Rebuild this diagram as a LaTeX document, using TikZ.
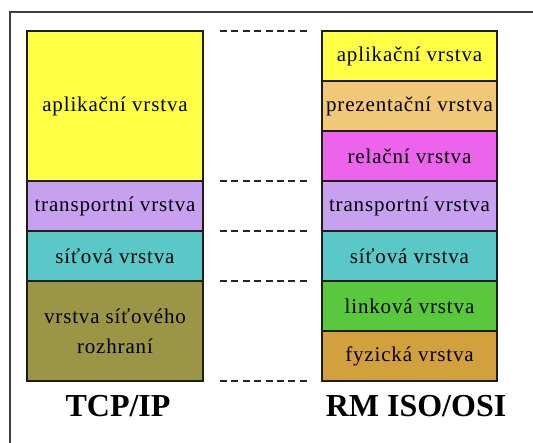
\documentclass[tikz,border=0pt]{standalone}
\usepackage{fontspec}
\setmainfont{Liberation Serif}
\newfontfamily\layerfont[LetterSpace=4]{Liberation Serif}
\definecolor{cApp}{RGB}{255,255,70}
\definecolor{cPres}{RGB}{240,200,120}
\definecolor{cSes}{RGB}{235,100,235}
\definecolor{cTrans}{RGB}{200,160,240}
\definecolor{cNet}{RGB}{90,200,200}
\definecolor{cIface}{RGB}{155,150,70}
\definecolor{cLink}{RGB}{90,200,60}
\definecolor{cPhys}{RGB}{210,160,60}
\definecolor{cEdge}{RGB}{30,30,20}
\begin{document}
\begin{tikzpicture}[x=1pt,y=-1pt,
  layer/.style={draw=cEdge,line width=1.2pt,minimum width=175pt,minimum height=50pt,
    inner sep=0pt,outer sep=0pt,align=center,font=\layerfont\fontsize{21}{30}\selectfont},
  sep/.style={draw=black!85,line width=1.4pt,dash pattern=on 7pt off 4.4pt},
  title/.style={font=\bfseries\fontsize{32}{36}\selectfont,anchor=base,inner sep=0pt},
  frame/.style={draw=black!75,line width=1.5pt}]
\useasboundingbox (0,0) rectangle (533,443);
\draw[frame] (533,12) -- (10,12) -- (10,443);
% TCP/IP stack
\node[layer,fill=cApp,minimum width=176pt,minimum height=150pt] (l1) at (115,106) {aplikační vrstva};
\node[layer,fill=cTrans,minimum width=176pt] (l2) at (115,206) {transportní vrstva};
\node[layer,fill=cNet,minimum width=176pt] (l3) at (115,256) {síťová vrstva};
\node[layer,fill=cIface,minimum width=176pt,minimum height=100pt] (l4) at (115,331) {vrstva síťového\\rozhraní};
% ISO/OSI stack
\node[layer,fill=cApp] (r1) at (409.5,56) {aplikační vrstva};
\node[layer,fill=cPres] (r2) at (409.5,106) {prezentační vrstva};
\node[layer,fill=cSes] (r3) at (409.5,156) {relační vrstva};
\node[layer,fill=cTrans] (r4) at (409.5,206) {transportní vrstva};
\node[layer,fill=cNet] (r5) at (409.5,256) {síťová vrstva};
\node[layer,fill=cLink] (r6) at (409.5,306) {linková vrstva};
\node[layer,fill=cPhys] (r7) at (409.5,356) {fyzická vrstva};
% layer correspondences
\draw[sep] ([xshift=17pt]l1.north east) -- ([xshift=-15pt]r1.north west);
\draw[sep] ([xshift=17pt]l2.north east) -- ([xshift=-15pt]r4.north west);
\draw[sep] ([xshift=17pt]l3.north east) -- ([xshift=-15pt]r5.north west);
\draw[sep] ([xshift=17pt]l4.north east) -- ([xshift=-15pt]r6.north west);
\draw[sep] ([xshift=17pt]l4.south east) -- ([xshift=-15pt]r7.south west);
% captions
\node[title] (tcp) at (118,417) {TCP/IP};
\node[title] (osi) at (416,417) {RM ISO/OSI};
\end{tikzpicture}
\end{document}
